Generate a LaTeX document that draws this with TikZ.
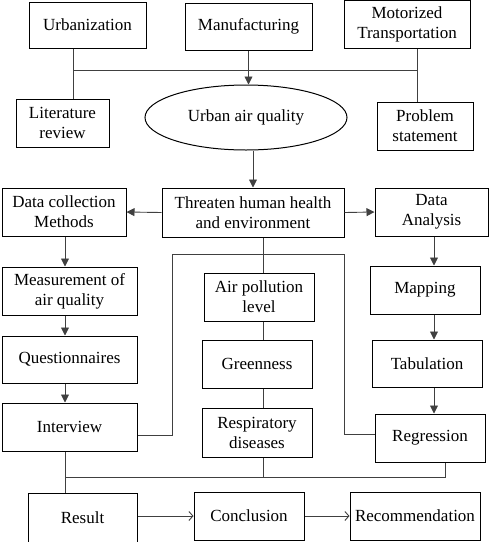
\documentclass[tikz,border=0pt]{standalone}
\usepackage{fontspec}
\setmainfont{Liberation Serif}
\usetikzlibrary{shapes.geometric,positioning,arrows.meta}

\begin{document}
\begin{tikzpicture}[x=1pt, y=-1pt, font=\fontsize{17}{20}\selectfont,
    box/.style 2 args={draw, line width=1pt, align=center, inner sep=0pt,
        minimum width=#1pt, minimum height=#2pt},
    link/.style={line width=0.9pt, draw=black!75},
    flow/.style={link, -{Triangle[width=8pt,length=8pt]}},
    open/.style={link, -{Straight Barb[length=4pt,width=9pt]}}]
    \useasboundingbox (0,0) rectangle (489,542);

    % top row
    \node[box={117}{46}] (urb) at (87.5,25) {Urbanization};
    \node[box={127}{47}] (manu) at (248.5,26.5) {Manufacturing};
    \node[box={126}{48}] (motor) at (407,24) {Motorized\\Transportation};

    \node[box={93}{48}] (lit) at (62.5,123) {Literature\\review};
    \node[draw, line width=1pt, ellipse, minimum width=202pt, minimum height=65pt, inner sep=0pt]
        (uaq) at (246,117.5) {Urban air quality};
    \node[box={96}{48}] (prob) at (425,126) {Problem\\statement};

    % middle row
    \node[box={182}{49}] (threat) at (253,212.5) {Threaten human health\\and environment};
    \node[box={124}{48}] (dcm) at (64,212) {Data collection\\Methods};
    \node[box={113}{48}] (da) at (431.5,212) {Data\\Analysis};

    % left column
    \node[box={135}{48}] (meas) at (69.5,291) {Measurement of\\air quality};
    \node[box={135}{47}] (quest) at (69.5,359.5) {Questionnaires};
    \node[box={135}{48}] (inter) at (69.5,427) {Interview};

    % centre column
    \node[box={110}{48}] (apl) at (259,297) {Air pollution\\level};
    \node[box={110}{48}] (green) at (257,364) {Greenness};
    \node[box={110}{49}] (resp) at (257,432.5) {Respiratory\\diseases};

    % right column
    \node[box={110}{48}] (map) at (425,290) {Mapping};
    \node[box={110}{47}] (tab) at (427,363.5) {Tabulation};
    \node[box={110}{48}] (reg) at (430,438) {Regression};

    % bottom row
    \node[box={109}{49}] (res) at (82.5,517.5) {Result};
    \node[box={110}{48}] (conc) at (249,516) {Conclusion};
    \node[box={130}{48}] (rec) at (415,516) {Recommendation};

    % junctions
    \coordinate (jl) at (73,70);
    \coordinate (jr) at (417,70);
    \coordinate (fl) at (172,254);
    \coordinate (fr) at (344,254);
    \coordinate (il) at (172,435);
    \coordinate (ir) at (344,434);
    \coordinate (bl) at (65,477);
    \coordinate (bm) at (263,477);
    \coordinate (br) at (445,477);
    \coordinate (dl) at (65,0);
    \coordinate (dr) at (434,0);

    \draw[link] (urb.south -| jl) -- (lit.north -| jl);
    \draw[link] (motor.south -| jr) -- (prob.north -| jr);
    \draw[link] (jl) -- (jr);
    \draw[flow] (manu.south) -- (manu.south |- uaq.north);
    \draw[flow] (threat.north |- uaq.south) -- (threat.north);

    \draw[flow] (threat.west) -- (dcm.east);
    \draw[flow] (threat.east) -- (da.west);

    \draw[flow] (dcm.south -| dl) -- (meas.north -| dl);
    \draw[flow] (meas.south -| dl) -- (quest.north -| dl);
    \draw[flow] (quest.south -| dl) -- (inter.north -| dl);

    \draw[flow] (da.south -| dr) -- (map.north -| dr);
    \draw[flow] (map.south -| dr) -- (tab.north -| dr);
    \draw[flow] (tab.south -| dr) -- (reg.north -| dr);

    \draw[link] (threat.south -| bm) -- (apl.north -| bm);
    \draw[link] (apl.south -| bm) -- (green.north -| bm);
    \draw[link] (green.south -| bm) -- (resp.north -| bm);
    \draw[link] (resp.south -| bm) -- (bm);

    \draw[link] (inter.east |- il) -- (il) -- (fl) -- (fr) -- (ir) -- (reg.west |- ir);
    \draw[link] (inter.south -| bl) -- (res.north -| bl);
    \draw[link] (bl) -- (br) -- (reg.south -| br);

    \draw[open] (res.east |- conc.west) -- (conc.west);
    \draw[open] (conc.east) -- (rec.west);
\end{tikzpicture}
\end{document}
